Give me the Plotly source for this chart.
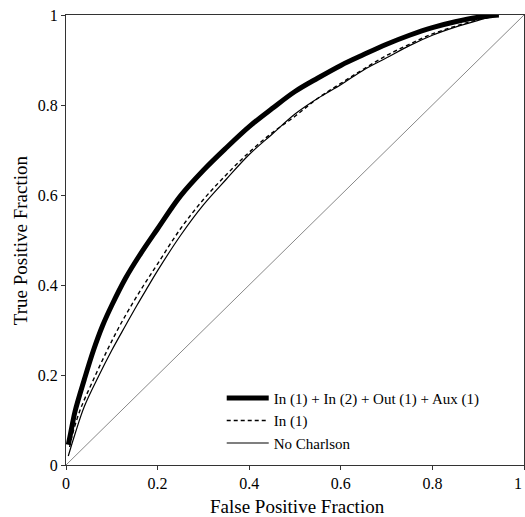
import plotly.graph_objects as go

# Data
fpf_all = [0.005, 0.01, 0.02, 0.04, 0.06, 0.08, 0.1, 0.13, 0.16, 0.2, 0.25, 0.3, 0.35, 0.4,
           0.45, 0.5, 0.55, 0.6, 0.65, 0.7, 0.75, 0.8, 0.85, 0.9, 0.945]
tpf_all = [0.045, 0.07, 0.12, 0.19, 0.255, 0.31, 0.355, 0.415, 0.465, 0.525, 0.598, 0.655, 0.705, 0.752,
           0.792, 0.83, 0.86, 0.888, 0.912, 0.935, 0.955, 0.972, 0.985, 0.995, 1.0]

fpf_in1 = [0.008, 0.012, 0.03, 0.06, 0.09, 0.115, 0.14, 0.17, 0.2, 0.25, 0.3, 0.35, 0.4, 0.45,
           0.5, 0.55, 0.6, 0.65, 0.7, 0.75, 0.8, 0.85, 0.9, 0.945]
tpf_in1 = [0.04, 0.06, 0.12, 0.19, 0.255, 0.305, 0.35, 0.4, 0.447, 0.525, 0.59, 0.645, 0.695, 0.738,
           0.775, 0.815, 0.848, 0.88, 0.91, 0.935, 0.958, 0.975, 0.99, 1.0]

fpf_none = [0.005, 0.02, 0.04, 0.07, 0.1, 0.13, 0.155, 0.18, 0.2, 0.25, 0.3, 0.35, 0.4, 0.45,
            0.5, 0.55, 0.6, 0.65, 0.7, 0.75, 0.8, 0.85, 0.9, 0.945]
tpf_none = [0.02, 0.07, 0.13, 0.195, 0.255, 0.31, 0.355, 0.398, 0.432, 0.51, 0.578, 0.635, 0.69, 0.735,
            0.78, 0.815, 0.845, 0.878, 0.905, 0.932, 0.955, 0.973, 0.988, 1.0]

diag = [0, 1]
tick_vals = [0, 0.2, 0.4, 0.6, 0.8, 1]
y_tick_text = ["0", "0.2", "0.4", "0.6", "0.8", "1"]
x_tick_text = ["0", "0.2", "0.4", "0.6", "0.8", "1\u00a0\u00a0\u00a0"]

FONT = "Liberation Serif, Times New Roman, serif"

fig = go.Figure()
fig.add_trace(go.Scatter(x=diag, y=diag, mode="lines", showlegend=False,
                         line=dict(color="#555555", width=0.7)))
fig.add_trace(go.Scatter(x=fpf_all, y=tpf_all, mode="lines", name="In (1) + In (2) + Out (1) + Aux (1)",
                         line=dict(color="black", width=5, shape="spline")))
fig.add_trace(go.Scatter(x=fpf_in1, y=tpf_in1, mode="lines", name="In (1)",
                         line=dict(color="black", width=1.4, dash="4px,3px", shape="spline")))
fig.add_trace(go.Scatter(x=fpf_none, y=tpf_none, mode="lines", name="No Charlson",
                         line=dict(color="black", width=1.2, shape="spline")))

axis_common = dict(range=[0, 1], tickvals=tick_vals, showgrid=False, zeroline=False,
                   showline=True, linecolor="#333333", linewidth=1, mirror=True,
                   ticks="outside", ticklen=4, tickcolor="#333333", automargin=False,
                   ticklabeloverflow="allow",
                   tickfont=dict(family=FONT, size=16, color="black"))

fig.update_xaxes(**axis_common, ticktext=x_tick_text)
fig.update_yaxes(**axis_common, ticktext=y_tick_text)

fig.update_layout(
    width=525, height=517,
    margin=dict(l=66, r=1, t=15, b=52),
    paper_bgcolor="white", plot_bgcolor="white",
    font=dict(family=FONT, color="black"),
    legend=dict(x=0.34, y=0.185, xanchor="left", yanchor="top", bgcolor="rgba(0,0,0,0)",
                itemwidth=42,
                font=dict(family=FONT, size=15, color="black"), tracegroupgap=0),
    annotations=[
        dict(text="False Positive Fraction", xref="paper", yref="paper", x=0.505, y=-0.092,
             xanchor="center", yanchor="middle", showarrow=False,
             font=dict(family=FONT, size=19, color="black")),
        dict(text="True Positive Fraction", xref="paper", yref="paper", x=-0.1, y=0.5,
             xanchor="center", yanchor="middle", showarrow=False, textangle=-90,
             font=dict(family=FONT, size=19, color="black")),
    ],
)

fig.write_html("out.html", config={"displayModeBar": False},
               post_script="document.body.style.margin='0';")
